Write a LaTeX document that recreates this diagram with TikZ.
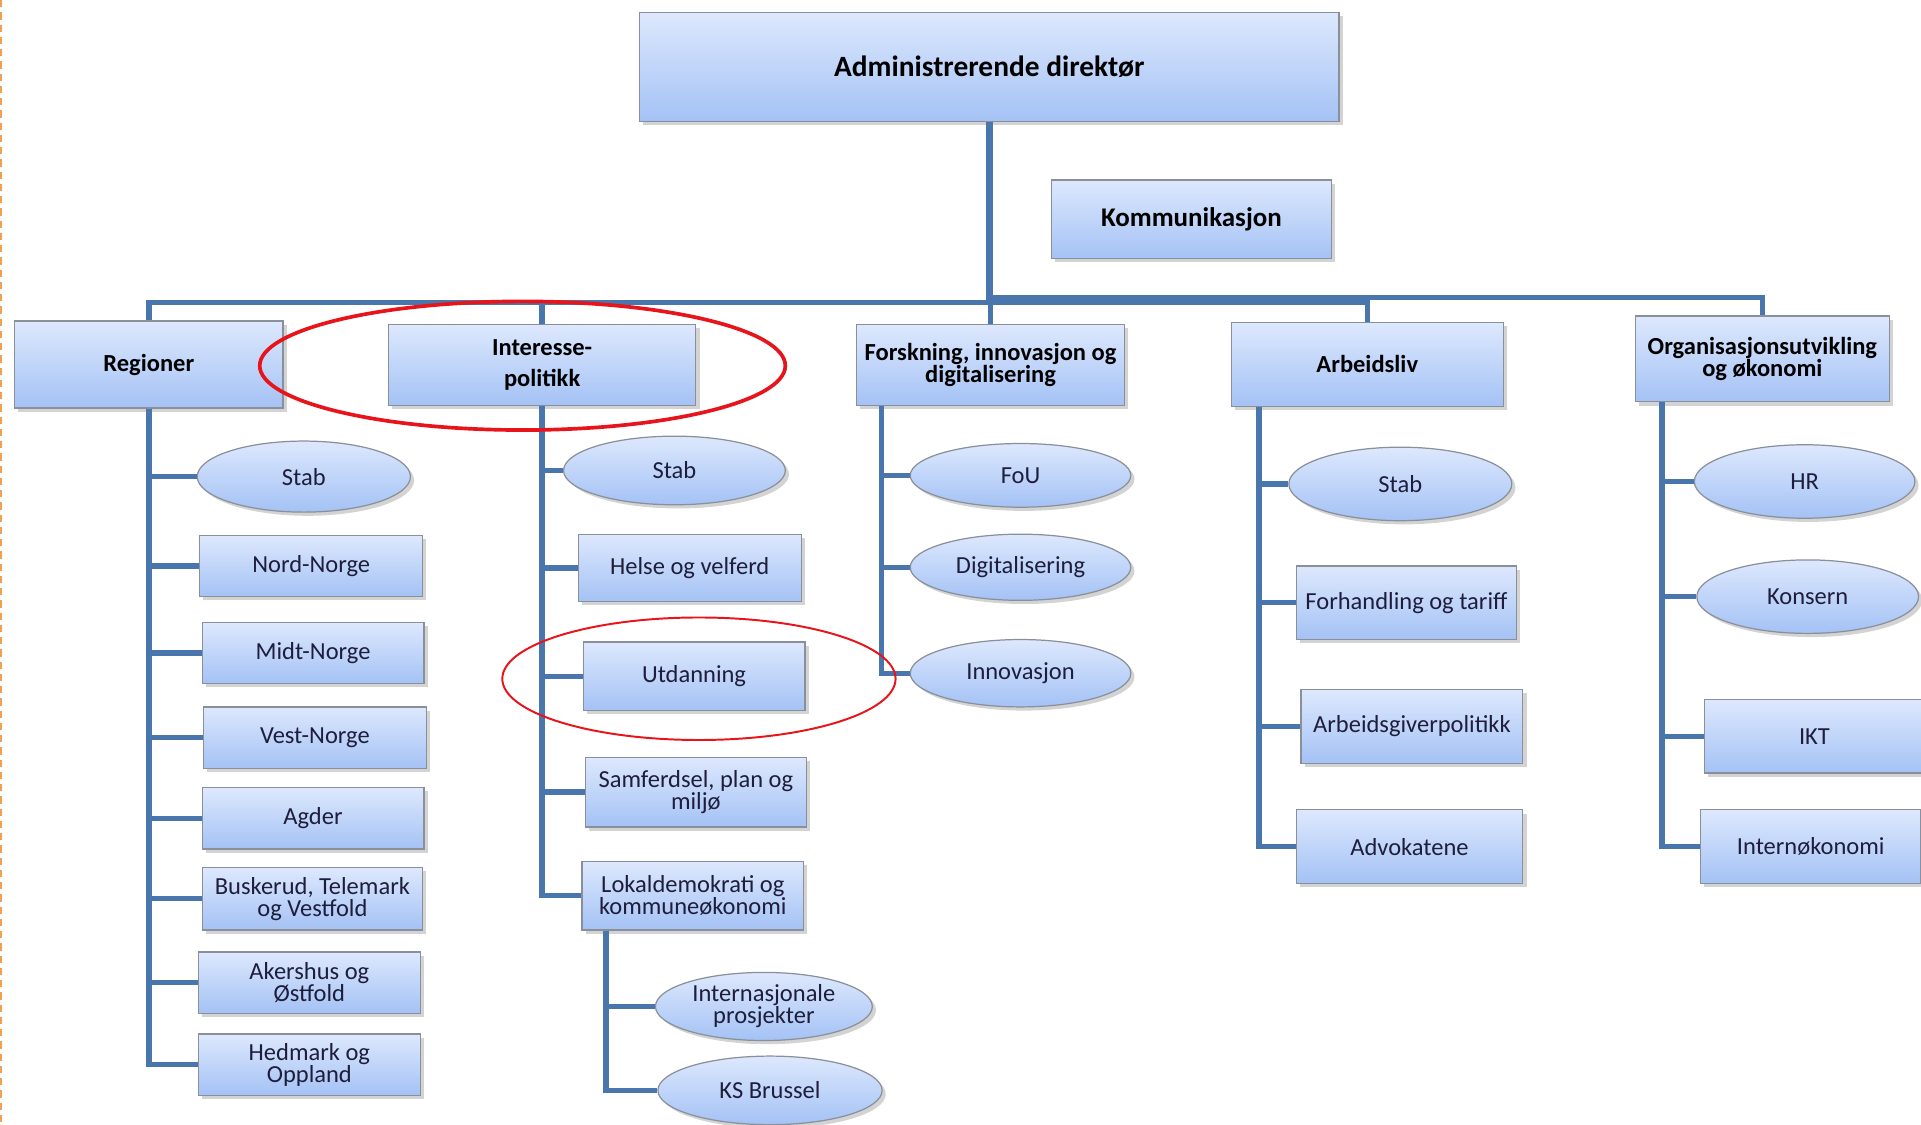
\documentclass[tikz,border=0pt]{standalone}
\usepackage{fontspec}
\setmainfont{Carlito}
\usetikzlibrary{shapes.geometric, shadows}

\definecolor{barblue}{HTML}{4A76AE}
\definecolor{boxtop}{HTML}{DDE8FD}
\definecolor{boxbot}{HTML}{A4C2F5}
\definecolor{boxline}{HTML}{8A9099}
\definecolor{ringred}{HTML}{E8141B}
\definecolor{txt}{HTML}{1E1E3C}
\definecolor{pageedge}{HTML}{F0A050}

\begin{document}
\begin{tikzpicture}[
            x = 0.5pt, y = -0.5pt, % pixel grid, y runs down
            bar/.style = {draw = barblue, line width = 2.2pt}, % org lines
            unit/.style = {
                draw = boxline,
                line width = 0.5pt,
                top color = boxtop,
                bottom color = boxbot,
                drop shadow = {shadow xshift = 1.5pt, shadow yshift = -1.5pt, opacity = 0.35},
                align = center,
                inner sep = 1pt
            },
            head/.style = {unit, font = \bfseries\fontsize{10}{9}\selectfont},
            dept/.style = {unit, text = txt, font = \fontsize{10}{9}\selectfont,
                minimum width = 90.5pt, minimum height = 25pt},
            team/.style = {dept, ellipse},
            ring/.style = {draw = ringred, ellipse, line width = 0.8pt}
        ]

        \useasboundingbox (0,0) rectangle (1568,918);
        \clip (0,0) rectangle (1568,918);

        \draw[pageedge, line width = 1pt, dash pattern = on 3pt off 2pt] (1,0) -- (1,918);

        % top
        \node[head, font = \bfseries\fontsize{12}{14}\selectfont,
            minimum width = 285.5pt, minimum height = 44.5pt] (ceo) at (807.5,54.5) {Administrerende direktør};
        \node[head, font = \bfseries\fontsize{11}{13}\selectfont,
            minimum width = 114.5pt, minimum height = 32pt] (kom) at (972.5,179) {Kommunikasjon};

        % areas
        \node[head, minimum width = 109.5pt, minimum height = 35.5pt] (reg) at (121.5,297.5) {Regioner};
        \node[head, font = \bfseries\fontsize{10}{12.5}\selectfont,
            minimum width = 125.5pt, minimum height = 33pt] (int) at (442.5,298) {Interesse-\\politikk};
        \node[head, minimum width = 109.5pt, minimum height = 33pt] (fik) at (808.5,298) {Forskning, innovasjon og\\digitalisering};
        \node[head, minimum width = 111pt, minimum height = 34.5pt] (arb) at (1116,297.5) {Arbeidsliv};
        \node[head, minimum width = 103.5pt, minimum height = 35pt] (org) at (1438.5,293) {Organisasjonsutvikling\\og økonomi};

        % Regioner
        \node[team, minimum width = 87pt, minimum height = 29pt] (rstab) at (248,389) {Stab};
        \node[dept, minimum width = 91pt] (nord) at (254,462) {Nord-Norge};
        \node[dept] (midt) at (255.5,533) {Midt-Norge};
        \node[dept, minimum width = 91pt] (vest) at (257,602) {Vest-Norge};
        \node[dept] (agder) at (255.5,668) {Agder};
        \node[dept, minimum width = 90pt, minimum height = 25.5pt] (busk) at (255,733.5) {Buskerud, Telemark\\og Vestfold};
        \node[dept] (aker) at (252.5,802) {Akershus og\\Østfold};
        \node[dept] (hedm) at (252.5,869) {Hedmark og\\Oppland};

        % Interessepolitikk
        \node[team, minimum height = 28pt] (istab) at (550.5,384) {Stab};
        \node[dept, minimum width = 91pt, minimum height = 27.5pt] (helse) at (563,463.5) {Helse og velferd};
        \node[dept, minimum height = 28pt] (utd) at (566.5,552) {Utdanning};
        \node[dept, minimum width = 90pt, minimum height = 28.5pt] (samf) at (568,646.5) {Samferdsel, plan og\\miljø};
        \node[dept, minimum height = 28pt] (lokal) at (565.5,731) {Lokaldemokrati og\\kommuneøkonomi};
        \node[team, minimum width = 88.5pt, minimum height = 27.5pt] (intp) at (623.5,821.5) {Internasjonale\\prosjekter};
        \node[team, minimum width = 91.5pt, minimum height = 28pt] (ksb) at (628.5,890) {KS Brussel};

        % Forskning
        \node[team, minimum width = 90pt, minimum height = 26pt] (fou) at (833,388) {FoU};
        \node[team, minimum width = 90pt, minimum height = 27pt] (dig) at (833,463) {Digitalisering};
        \node[team, minimum width = 90pt, minimum height = 27.5pt] (inn) at (833,549.5) {Innovasjon};

        % Arbeidsliv
        \node[team, minimum width = 91pt, minimum height = 30pt] (astab) at (1143,395) {Stab};
        \node[dept, minimum width = 90pt, minimum height = 30pt] (forh) at (1148,492) {Forhandling og tariff};
        \node[dept, minimum height = 30pt] (agp) at (1152.5,593) {Arbeidsgiverpolitikk};
        \node[dept, minimum width = 92.5pt, minimum height = 30pt] (adv) at (1150.5,691) {Advokatene};

        % Organisasjon
        \node[team, minimum width = 90pt, minimum height = 30pt] (hr) at (1473,393) {HR};
        \node[team, minimum height = 30pt] (kons) at (1475.5,487) {Konsern};
        \node[dept, minimum width = 90pt, minimum height = 30pt] (ikt) at (1481,601) {IKT};
        \node[dept, minimum width = 90pt, minimum height = 30pt] (intok) at (1478,691) {Internøkonomi};

        % lines
        \coordinate (bus) at (807,247);
        \coordinate (bus2) at (807,243);
        \draw[bar, line width = 3pt] (ceo.south) -- (ceo.south |- bus);
        \draw[bar] (reg.north) |- (bus) -| (arb.north);
        \draw[bar] (bus2) -| (org.north);
        \draw[bar] (int.north) -- (int.north |- bus);
        \draw[bar] (fik.north) -- (fik.north |- bus);

        \draw[bar] (reg.south) |- (rstab.west);
        \draw[bar] (reg.south) |- (nord.west);
        \draw[bar] (reg.south) |- (midt.west);
        \draw[bar] (reg.south) |- (vest.west);
        \draw[bar] (reg.south) |- (agder.west);
        \draw[bar] (reg.south) |- (busk.west);
        \draw[bar] (reg.south) |- (aker.west);
        \draw[bar] (reg.south) |- (hedm.west);

        \draw[bar] (int.south) |- (istab.west);
        \draw[bar] (int.south) |- (helse.west);
        \draw[bar] (int.south) |- (utd.west);
        \draw[bar] (int.south) |- (samf.west);
        \draw[bar] (int.south) |- (lokal.west);
        \draw[bar] ([xshift = 10pt]lokal.south west) |- (intp.west);
        \draw[bar] ([xshift = 10pt]lokal.south west) |- (ksb.west);

        \draw[bar] ([xshift = 10.5pt]fik.south west) |- (fou.west);
        \draw[bar] ([xshift = 10.5pt]fik.south west) |- (dig.west);
        \draw[bar] ([xshift = 10.5pt]fik.south west) |- (inn.west);

        \draw[bar] ([xshift = 11.5pt]arb.south west) |- (astab.west);
        \draw[bar] ([xshift = 11.5pt]arb.south west) |- (forh.west);
        \draw[bar] ([xshift = 11.5pt]arb.south west) |- (agp.west);
        \draw[bar] ([xshift = 11.5pt]arb.south west) |- (adv.west);

        \draw[bar] ([xshift = 11pt]org.south west) |- (hr.west);
        \draw[bar] ([xshift = 11pt]org.south west) |- (kons.west);
        \draw[bar] ([xshift = 11pt]org.south west) |- (ikt.west);
        \draw[bar] ([xshift = 11pt]org.south west) |- (intok.west);

        % marks
        \node[ring, line width = 1.5pt, minimum width = 214.5pt, minimum height = 52.5pt] (ring1) at (426.5,298.5) {};
        \node[ring, minimum width = 160.5pt, minimum height = 50pt] (ring2) at (570.5,554) {};

  \end{tikzpicture}
\end{document}
